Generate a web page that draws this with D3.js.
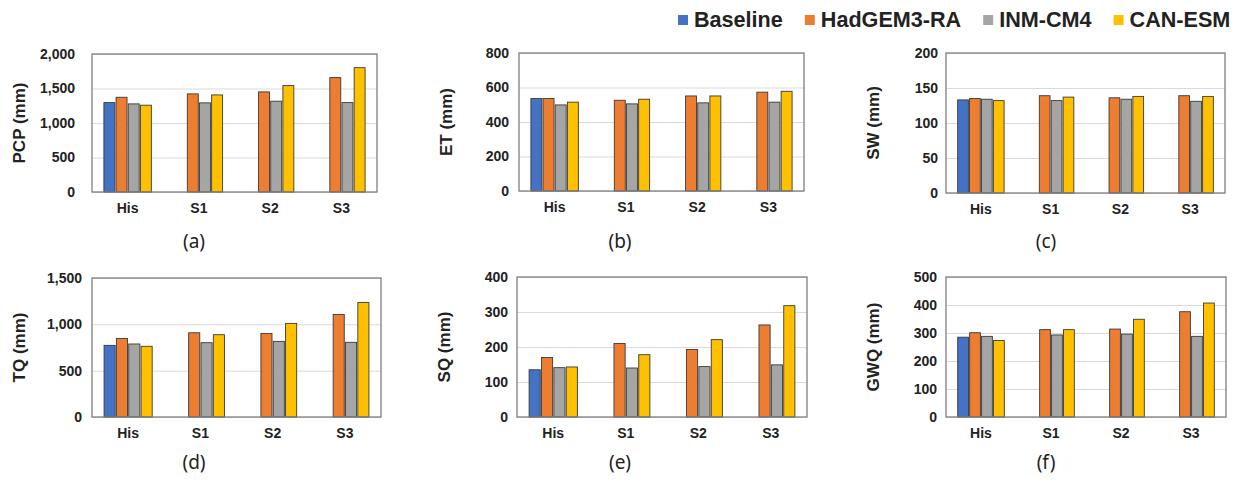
<!DOCTYPE html>
<meta charset="utf-8">
<script src="https://d3js.org/d3.v7.min.js"></script>
<style>
  body { margin: 0; background: #fff; }
  text { font-family: "Liberation Sans", Arial, sans-serif; }
</style>
<div id="chart"></div>
<script>
// categories and series
var categories = ["His", "S1", "S2", "S3"];
var seriesNames = ["Baseline", "HadGEM3-RA", "INM-CM4", "CAN-ESM"];
var seriesColors = ["#4472C4", "#ED7D31", "#A5A5A5", "#FFC000"];

// values per category: [Baseline, HadGEM3-RA, INM-CM4, CAN-ESM]
var pcpValues = [[1296, 1373, 1277, 1258], [null, 1422, 1292, 1407], [null, 1451, 1316, 1542], [null, 1658, 1296, 1802]];
var etValues  = [[536, 536, 499, 515], [null, 526, 505, 532], [null, 551, 511, 551], [null, 573, 515, 578]];
var swValues  = [[133, 135, 134, 132], [null, 139, 132, 137], [null, 136, 134, 138], [null, 139, 131, 138]];
var tqValues  = [[773, 848, 788, 763], [null, 909, 802, 888], [null, 902, 816, 1010], [null, 1106, 806, 1235]];
var sqValues  = [[135, 170, 141, 143], [null, 210, 140, 178], [null, 193, 144, 221], [null, 263, 149, 318]];
var gwqValues = [[285, 301, 288, 273], [null, 312, 293, 312], [null, 314, 296, 349], [null, 376, 288, 407]];

// y tick labels
var pcpTicks = [0, 500, 1000, 1500, 2000];
var etTicks  = [0, 200, 400, 600, 800];
var swTicks  = [0, 50, 100, 150, 200];
var tqTicks  = [0, 500, 1000, 1500];
var sqTicks  = [0, 100, 200, 300, 400];
var gwqTicks = [0, 100, 200, 300, 400, 500];

var titles = ["PCP (mm)", "ET (mm)", "SW (mm)", "TQ (mm)", "SQ (mm)", "GWQ (mm)"];
var letters = ["(a)", "(b)", "(c)", "(d)", "(e)", "(f)"];

// panel layout (plot area in page pixels)
var panels = [
  {values: pcpValues, ticks: pcpTicks, x: 92,  y: 54,  w: 285, h: 138, gap: 17, lx: 194, ly: 248},
  {values: etValues,  ticks: etTicks,  x: 519, y: 53,  w: 285, h: 138, gap: 10, lx: 620, ly: 248},
  {values: swValues,  ticks: swTicks,  x: 946, y: 53,  w: 279, h: 140, gap: 8,  lx: 1046, ly: 248},
  {values: tqValues,  ticks: tqTicks,  x: 92,  y: 278, w: 289, h: 139, gap: 10, lx: 194, ly: 469},
  {values: sqValues,  ticks: sqTicks,  x: 517, y: 277, w: 290, h: 140, gap: 9,  lx: 620, ly: 469},
  {values: gwqValues, ticks: gwqTicks, x: 946, y: 277, w: 280, h: 140, gap: 9,  lx: 1046, ly: 469}
];

var svg = d3.select("#chart")
  .append("svg")
    .attr("width", 1240)
    .attr("height", 480);

panels.forEach(function(p, i) {
  var g = svg.append("g")
    .attr("transform", "translate(" + p.x + "," + p.y + ")");

  var x0 = d3.scaleBand()
    .domain(categories)
    .range([0, p.w]);

  var x1 = d3.scaleBand()
    .domain(seriesNames)
    .range([x0.bandwidth() * 0.15, x0.bandwidth() * 0.85])
    .padding(0.1);

  var y = d3.scaleLinear()
    .domain([0, d3.max(p.ticks)])
    .range([p.h, 0]);

  // gridlines
  g.append("g")
    .call(d3.axisLeft(y).tickValues(p.ticks).tickSize(-p.w).tickFormat(""))
    .call(function(s) { s.select(".domain").remove(); })
    .selectAll("line")
      .attr("stroke", "#d9d9d9")
      .attr("stroke-width", 1);

  // bars
  var rows = [];
  p.values.forEach(function(row, ci) {
    row.forEach(function(v, si) {
      if (v != null) rows.push({cat: categories[ci], s: si, v: v});
    });
  });

  g.selectAll("rect.bar")
    .data(rows)
    .enter()
    .append("rect")
      .attr("class", "bar")
      .attr("x", function(d) { return x0(d.cat) + x1(seriesNames[d.s]); })
      .attr("y", function(d) { return y(d.v); })
      .attr("width", x1.bandwidth())
      .attr("height", function(d) { return p.h - y(d.v); })
      .attr("fill", function(d) { return seriesColors[d.s]; })
      .attr("stroke", "#3a3a3a")
      .attr("stroke-width", 0.9);

  // plot border
  g.append("rect")
    .attr("width", p.w)
    .attr("height", p.h)
    .attr("fill", "none")
    .attr("stroke", "#7f7f7f")
    .attr("stroke-width", 1.3);

  // y tick labels
  g.append("g")
    .call(d3.axisLeft(y).tickValues(p.ticks).tickSize(0).tickPadding(p.gap).tickFormat(d3.format(",")))
    .call(function(s) { s.select(".domain").remove(); })
    .selectAll("text")
      .style("font-size", "14px")
      .style("font-weight", "bold")
      .style("font-family", "'Liberation Sans', Arial, sans-serif")
      .attr("fill", "#222");

  // x category labels
  g.append("g")
    .attr("transform", "translate(0," + p.h + ")")
    .call(d3.axisBottom(x0).tickSize(0).tickPadding(11))
    .call(function(s) { s.select(".domain").remove(); })
    .selectAll("text")
      .style("font-size", "14px")
      .style("font-weight", "bold")
      .style("font-family", "'Liberation Sans', Arial, sans-serif")
      .attr("fill", "#222");

  // y axis title
  g.append("text")
    .attr("transform", "translate(" + (-73) + "," + (p.h / 2) + ") rotate(-90)")
    .attr("text-anchor", "middle")
    .attr("dy", "0.35em")
    .style("font-size", "17px")
    .style("font-weight", "bold")
    .attr("fill", "#222")
    .text(titles[i]);

  // panel letter
  svg.append("text")
    .attr("x", p.lx)
    .attr("y", p.ly)
    .attr("text-anchor", "middle")
    .style("font-family", "'Noto Sans', 'Open Sans', sans-serif")
    .style("font-size", "19px")
    .attr("fill", "#222")
    .text(letters[i]);
});

// legend
var legend = svg.append("g");
var lx = 678;
seriesNames.forEach(function(name, i) {
  legend.append("rect")
    .attr("x", lx)
    .attr("y", 15)
    .attr("width", 10)
    .attr("height", 10)
    .attr("fill", seriesColors[i]);
  var t = legend.append("text")
    .attr("x", lx + 16)
    .attr("y", 27)
    .style("font-size", "21.6px")
    .style("font-weight", "bold")
    .attr("fill", "#222")
    .text(name);
  lx += 16 + t.node().getComputedTextLength() + 22;
});
</script>
